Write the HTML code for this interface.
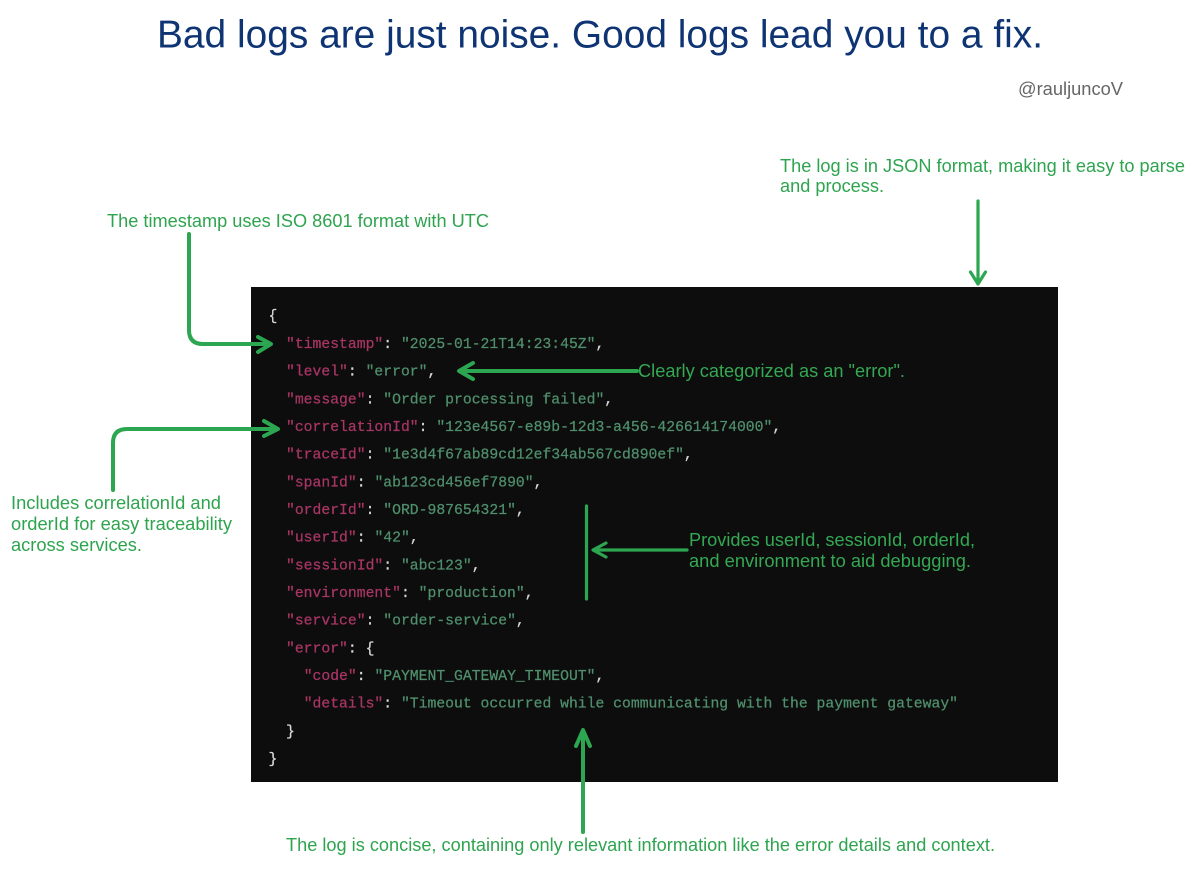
<!DOCTYPE html>
<html>
<head>
<meta charset="utf-8">
<style>
html,body{margin:0;padding:0;background:#fff;width:1200px;height:869px;overflow:hidden}
svg{display:block}
.t{font-family:"Liberation Sans",sans-serif;font-size:18.6px;fill:#2ea44f}
.d{fill:#34a853}
.c{font-family:"Liberation Mono",monospace;font-size:14.74px;white-space:pre;stroke-width:.25px}
.k{fill:#a83563;stroke:#a83563}
.s{fill:#4f8f6c;stroke:#4f8f6c}
.p{fill:#d8d8d8;stroke:#d8d8d8}
.a{fill:none;stroke:#2ca650;stroke-width:3.2;stroke-linecap:round;stroke-linejoin:round}
.b{stroke-width:4}
</style>
</head>
<body>
<svg width="1200" height="869" viewBox="0 0 1200 869" xmlns="http://www.w3.org/2000/svg">
<rect width="1200" height="869" fill="#fff"/>
<text x="157" y="47.500" font-family="Liberation Sans, sans-serif" font-size="38.500" fill="#0f3473" textLength="886" lengthAdjust="spacingAndGlyphs">Bad logs are just noise. Good logs lead you to a fix.</text>
<text x="1018" y="95" font-family="Liberation Sans, sans-serif" font-size="18.600" fill="#666" textLength="105" lengthAdjust="spacingAndGlyphs">@rauljuncoV</text>

<rect x="251" y="287" width="807" height="495" fill="#0d0d0d"/>

<g class="c">
<text x="268.500" y="320" class="p">{</text>
<text x="286" y="348"><tspan class="k">"timestamp"</tspan><tspan class="p">: </tspan><tspan class="s">"2025-01-21T14:23:45Z"</tspan><tspan class="p">,</tspan></text>
<text x="286" y="375.700"><tspan class="k">"level"</tspan><tspan class="p">: </tspan><tspan class="s">"error"</tspan><tspan class="p">,</tspan></text>
<text x="286" y="403.400"><tspan class="k">"message"</tspan><tspan class="p">: </tspan><tspan class="s">"Order processing failed"</tspan><tspan class="p">,</tspan></text>
<text x="286" y="431"><tspan class="k">"correlationId"</tspan><tspan class="p">: </tspan><tspan class="s">"123e4567-e89b-12d3-a456-426614174000"</tspan><tspan class="p">,</tspan></text>
<text x="286" y="458.700"><tspan class="k">"traceId"</tspan><tspan class="p">: </tspan><tspan class="s">"1e3d4f67ab89cd12ef34ab567cd890ef"</tspan><tspan class="p">,</tspan></text>
<text x="286" y="486.400"><tspan class="k">"spanId"</tspan><tspan class="p">: </tspan><tspan class="s">"ab123cd456ef7890"</tspan><tspan class="p">,</tspan></text>
<text x="286" y="514"><tspan class="k">"orderId"</tspan><tspan class="p">: </tspan><tspan class="s">"ORD-987654321"</tspan><tspan class="p">,</tspan></text>
<text x="286" y="541.700"><tspan class="k">"userId"</tspan><tspan class="p">: </tspan><tspan class="s">"42"</tspan><tspan class="p">,</tspan></text>
<text x="286" y="569.400"><tspan class="k">"sessionId"</tspan><tspan class="p">: </tspan><tspan class="s">"abc123"</tspan><tspan class="p">,</tspan></text>
<text x="286" y="597"><tspan class="k">"environment"</tspan><tspan class="p">: </tspan><tspan class="s">"production"</tspan><tspan class="p">,</tspan></text>
<text x="286" y="624.700"><tspan class="k">"service"</tspan><tspan class="p">: </tspan><tspan class="s">"order-service"</tspan><tspan class="p">,</tspan></text>
<text x="286" y="652.400"><tspan class="k">"error"</tspan><tspan class="p">: {</tspan></text>
<text x="303.700" y="680"><tspan class="k">"code"</tspan><tspan class="p">: </tspan><tspan class="s">"PAYMENT_GATEWAY_TIMEOUT"</tspan><tspan class="p">,</tspan></text>
<text x="303.700" y="707.700"><tspan class="k">"details"</tspan><tspan class="p">: </tspan><tspan class="s">"Timeout occurred while communicating with the payment gateway"</tspan></text>
<text x="286" y="735.400" class="p">}</text>
<text x="268.500" y="763" class="p">}</text>
</g>

<text class="t" x="780" y="172" textLength="405" lengthAdjust="spacingAndGlyphs">The log is in JSON format, making it easy to parse</text>
<text class="t" x="780" y="192" textLength="104" lengthAdjust="spacingAndGlyphs">and process.</text>
<text class="t" x="107" y="227" textLength="382" lengthAdjust="spacingAndGlyphs">The timestamp uses ISO 8601 format with UTC</text>
<text class="t d" x="638" y="377" textLength="267" lengthAdjust="spacingAndGlyphs">Clearly categorized as an "error".</text>
<text class="t" x="11" y="509" textLength="210" lengthAdjust="spacingAndGlyphs">Includes correlationId and</text>
<text class="t" x="11" y="530" textLength="221" lengthAdjust="spacingAndGlyphs">orderId for easy traceability</text>
<text class="t" x="11" y="551" textLength="131" lengthAdjust="spacingAndGlyphs">across services.</text>
<text class="t d" x="689" y="546" textLength="286" lengthAdjust="spacingAndGlyphs">Provides userId, sessionId, orderId,</text>
<text class="t d" x="689" y="567" textLength="282" lengthAdjust="spacingAndGlyphs">and environment to aid debugging.</text>
<text class="t" x="286" y="851" textLength="709" lengthAdjust="spacingAndGlyphs">The log is concise, containing only relevant information like the error details and context.</text>

<path class="a" d="M978 201 L978 284 M970.500 272 L978 284 L985.500 272"/>
<path class="a b" d="M189 234 L189 331 Q189.500 344 203 344 L270 344 M258 337 L271 344 L258 352"/>
<path class="a b" d="M637 371 L460 371 M473 363 L459 371 L473 379"/>
<path class="a b" d="M113 490 L113 443 Q113 429 127 429 L277 429 M264 421 L278 429 L264 436"/>
<path class="a" d="M586.500 506 L586.500 599"/>
<path class="a" d="M687 550 L594 550 M606 543 L593 550 L606 557"/>
<path class="a b" d="M583 832 L583 731 M576 746 L583 730 L590 746"/>
</svg>
</body>
</html>
